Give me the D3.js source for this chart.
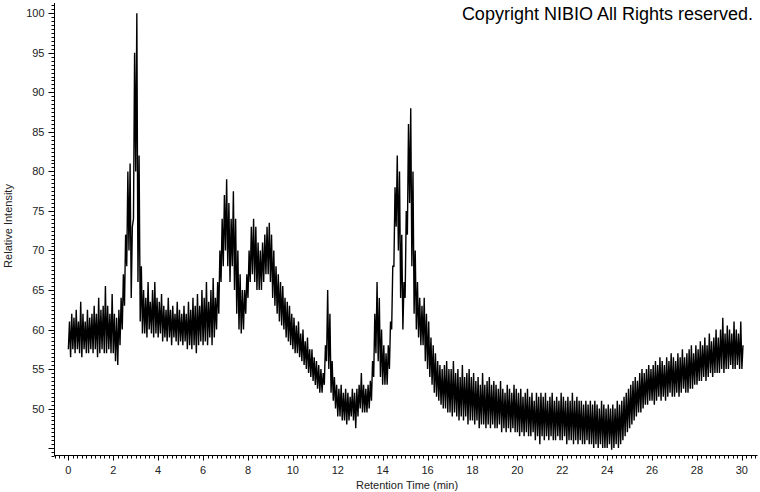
<!DOCTYPE html>
<html>
<head>
<meta charset="utf-8">
<script src="https://cdn.jsdelivr.net/npm/d3@7"></script>
<style>
  body { margin: 0; background: #fff; }
  text { font-family: "Liberation Sans", Arial, sans-serif; }
</style>
</head>
<body>
<div class="chart"></div>
<script>
var svgWidth = 760;
var svgHeight = 492;

// sampling of the trace (min) - one low/high pair per step
var tStep = 0.1;

// lower edge of the noisy trace, t = 0.0 .. 30.0
var lowEnv = [
  57.5, 56.5, 57.5, 57, 57.5, 57, 56.5, 57.5, 57, 57,
  57.5, 57, 57.5, 56.5, 57, 57.5, 57, 57, 57.5, 57,
  57, 56, 55.5, 58, 60, 63, 68, 70, 64, 74,
  80, 66, 61, 59.5, 59.5, 59, 60, 59.5, 59, 59.5,
  59, 59.5, 58.5, 59, 58.5, 59, 58, 59, 58.5, 58,
  58.5, 58, 58.5, 57.5, 58, 57.5, 58, 57, 58, 58.5,
  58, 58.5, 58, 59, 58, 59, 60, 62, 66, 68,
  70, 68, 66, 68, 65, 62, 60, 59.5, 60, 62,
  64, 66, 67, 66, 65, 65, 65, 66, 67, 67,
  66, 64, 63, 62, 61, 60.5, 60, 59, 58.5, 58,
  57.5, 57, 57, 56.5, 56, 55.5, 55, 54.5, 54, 53.5,
  53, 52.5, 52, 52, 53, 56, 55, 52, 51, 50,
  49, 49, 48.5, 48.5, 48, 48.5, 49, 48.5, 47.5, 49,
  50, 49.5, 49.5, 49.5, 50, 51, 54, 57, 56, 54,
  53, 53, 53, 55, 60, 68, 73, 70, 64, 60,
  64, 72, 76, 68, 62, 60, 59, 58, 58, 56,
  55, 54, 53, 52, 51.5, 51, 50.5, 50, 50, 49.5,
  49.5, 49, 49.5, 49, 48.5, 49, 48.5, 49, 48, 48.5,
  48.5, 48, 48.5, 47.5, 48, 48, 47.5, 48, 47.5, 48,
  47.5, 47.5, 48, 47, 47.5, 47, 47.5, 47, 47.5, 47,
  47, 46.5, 47, 46.5, 47, 46.5, 46.5, 47, 46, 46.5,
  45.5, 46.5, 46, 46.5, 46, 46.5, 46, 46, 46.5, 46,
  46, 46.5, 45.5, 46, 46, 45.5, 46, 45.5, 46, 45.5,
  45.5, 46, 45.5, 45.5, 45, 45.5, 45, 45.5, 45, 45,
  45, 45.5, 44.8, 45, 45.5, 45, 45.5, 46, 46.5, 47,
  47.5, 48, 48.5, 49, 49.5, 49.5, 50, 50.5, 50.5, 51,
  51, 50.5, 51, 51.5, 51, 51.5, 51, 51.5, 52, 51.5,
  51.5, 52, 51.5, 52, 52.5, 52, 52, 52.5, 52.5, 53,
  53, 53.5, 53.5, 54, 53.5, 54, 54.5, 54, 54.5, 54.5,
  54.5, 55, 54.5, 55, 55, 55.5, 55, 55, 55.5, 55,
  55
];

// upper edge of the noisy trace, t = 0.0 .. 30.0
var highEnv = [
  61, 62, 61.5, 62.5, 61, 63.5, 62, 61, 62.5, 61.5,
  62, 63, 62, 64, 62.5, 63, 65.5, 63, 62, 64.5,
  62, 61.5, 62.5, 64, 67, 72, 80, 81, 73, 95,
  100, 82, 68, 65, 64, 66, 63.5, 65, 66, 64,
  63.5, 64.5, 63, 62.5, 64, 62.5, 63, 62, 63.5, 62.5,
  62, 63, 62, 63.5, 62.5, 64, 63, 64.5, 63, 65,
  64, 66, 63.5, 65, 66.5, 64, 66, 70, 74, 77,
  79, 76, 74, 77.5, 74, 70, 67, 65, 65, 67,
  70, 73, 74, 73, 71, 70, 71, 72, 73, 73.5,
  72, 70, 68, 67, 66, 65.5, 64, 63.5, 63, 62,
  61.5, 60.5, 61, 59.5, 60, 58.5, 59, 57.5, 57.5, 56.5,
  56, 55.5, 55, 54.5, 58, 65, 62, 56, 54, 53,
  52.5, 53, 52, 52.5, 52, 51.5, 52.5, 52, 52.5, 53,
  54.5, 53, 52.5, 53, 53.5, 56, 62, 66, 64, 60,
  58, 57, 58, 61, 68, 78, 82, 80, 72, 66,
  75, 86, 88, 80, 70, 66, 64, 63, 64, 62,
  61, 59, 58, 57, 56, 55.5, 55, 55.5, 56, 55,
  55, 56, 54.5, 55, 54, 55.5, 54, 54.5, 55, 54,
  54.5, 53.5, 54, 53, 54.5, 53, 53.5, 54, 53, 53.5,
  53, 52.5, 53.5, 52.5, 52, 53, 52.5, 52, 53, 52.5,
  52, 52.5, 51.5, 52, 52.5, 51.5, 52, 51, 52, 51.5,
  52, 51.5, 52, 51, 51.5, 52, 51, 51.5, 51, 52,
  51.5, 51, 51.5, 51, 52, 51, 51.5, 51, 51, 50.5,
  51, 50.5, 51, 50.5, 51, 50.5, 50, 51, 50.5, 50,
  50.5, 50, 50.5, 50, 51, 50.5, 51, 51.5, 52, 52.5,
  53, 53.5, 54, 53.5, 54.5, 55, 54.5, 55, 55.5, 55,
  55.5, 56, 55.5, 56.5, 56, 55.5, 56.5, 56, 57, 56.5,
  56, 57, 56.5, 57.5, 56.5, 57, 57.5, 58, 57, 58,
  57.5, 58.5, 58, 59, 58, 59.5, 58.5, 59, 60, 59,
  60, 61.5, 59.5, 60.5, 60, 59.5, 61, 60, 59.5, 61,
  58
];

var xLabels = [0, 2, 4, 6, 8, 10, 12, 14, 16, 18, 20, 22, 24, 26, 28, 30];
var yLabels = [50, 55, 60, 65, 70, 75, 80, 85, 90, 95, 100];

var svg = d3.select(".chart")
  .append("svg")
  .attr("width", svgWidth)
  .attr("height", svgHeight);

svg.append("rect")
  .attr("width", svgWidth)
  .attr("height", svgHeight)
  .attr("fill", "#fff");

// scales
var xScale = d3.scaleLinear()
  .domain([-0.64, 30.7])
  .range([54, 757.6]);

var yScale = d3.scaleLinear()
  .domain([44, 101.3])
  .range([456, 3]);

// x axis: minor ticks every 0.2 min, labelled every 2
var minorX = d3.range(-30, 1536, 10).map(d => d / 50);
var xAxisG = svg.append("g")
  .attr("transform", "translate(0,455.5)");

xAxisG.append("line")
  .attr("x1", 54).attr("x2", 757.6)
  .attr("stroke", "#000");

xAxisG.selectAll("line.tick")
  .data(minorX)
  .enter()
  .append("line")
  .attr("class", "tick")
  .attr("x1", d => Math.round(xScale(d)) + 0.5)
  .attr("x2", d => Math.round(xScale(d)) + 0.5)
  .attr("y1", 0)
  .attr("y2", d => xLabels.indexOf(Math.round(d * 10) / 10) >= 0 ? 5 : 3)
  .attr("stroke", "#000");

xAxisG.selectAll("text")
  .data(xLabels)
  .enter()
  .append("text")
  .attr("x", d => xScale(d))
  .attr("y", 18)
  .attr("text-anchor", "middle")
  .attr("font-size", 11)
  .attr("fill", "#222")
  .text(d => d);

// y axis: minor ticks every 0.5, labelled every 5
var minorY = d3.range(88, 203, 1).map(d => d / 2);
var yAxisG = svg.append("g")
  .attr("transform", "translate(54.5,0)");

yAxisG.append("line")
  .attr("y1", 3).attr("y2", 456)
  .attr("stroke", "#000");

yAxisG.selectAll("line.tick")
  .data(minorY)
  .enter()
  .append("line")
  .attr("class", "tick")
  .attr("y1", d => Math.round(yScale(d)) + 0.5)
  .attr("y2", d => Math.round(yScale(d)) + 0.5)
  .attr("x1", 0)
  .attr("x2", d => d % 5 === 0 ? -6 : -3)
  .attr("stroke", "#000");

yAxisG.selectAll("text")
  .data(yLabels)
  .enter()
  .append("text")
  .attr("x", -10)
  .attr("y", d => yScale(d) + 4)
  .attr("text-anchor", "end")
  .attr("font-size", 11)
  .attr("fill", "#222")
  .text(d => d);

// trace: zig-zag between the low and high edge of the noise
var pts = [];
lowEnv.forEach(function(lo, i) {
  var t = i * tStep;
  pts.push([t, lo]);
  pts.push([t + tStep / 2, highEnv[i]]);
});

var line = d3.line()
  .x(d => xScale(d[0]))
  .y(d => yScale(d[1]));

svg.append("path")
  .datum(pts)
  .attr("d", line)
  .attr("fill", "none")
  .attr("stroke", "#000")
  .attr("stroke-width", 1.4)
  .attr("stroke-linejoin", "miter")
  .attr("stroke-miterlimit", 2);

// axis titles
svg.append("text")
  .attr("x", 407)
  .attr("y", 489)
  .attr("text-anchor", "middle")
  .attr("font-size", 11)
  .attr("fill", "#222")
  .text("Retention Time (min)");

svg.append("text")
  .attr("transform", "translate(12,226) rotate(-90)")
  .attr("text-anchor", "middle")
  .attr("font-size", 11)
  .attr("fill", "#222")
  .text("Relative Intensity");

svg.append("text")
  .attr("x", 753)
  .attr("y", 20)
  .attr("text-anchor", "end")
  .attr("font-size", 18)
  .attr("fill", "#000")
  .text("Copyright NIBIO All Rights reserved.");
</script>
</body>
</html>
